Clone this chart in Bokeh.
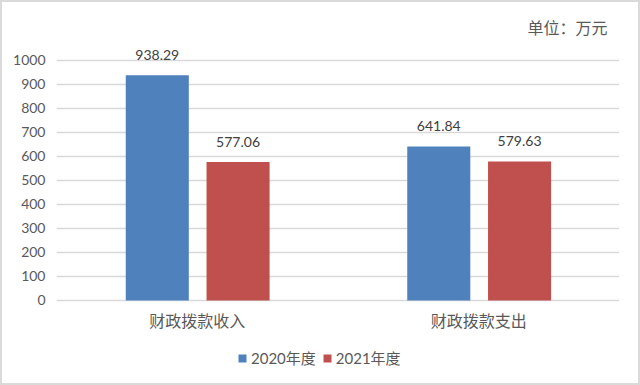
from bokeh.plotting import figure
from bokeh.models import ColumnDataSource, FactorRange, Range1d, LabelSet, Legend, LegendItem, Title, FixedTicker
from bokeh.transform import dodge
from bokeh.core.properties import value
from bokeh.embed import file_html
from bokeh.resources import INLINE

categories = ["财政拨款收入", "财政拨款支出"]
series_names = ["2020年度", "2021年度"]
values_2020 = [938.29, 641.84]
values_2021 = [577.06, 579.63]
y_ticks = [0, 100, 200, 300, 400, 500, 600, 700, 800, 900, 1000]
unit_text = "单位：万元"

FONT = "Lato, 'Noto Sans CJK SC'"
TXT = "#595959"

src = ColumnDataSource(dict(
    cat=categories,
    v20=values_2020,
    v21=values_2021,
    l20=["%.2f" % v for v in values_2020],
    l21=["%.2f" % v for v in values_2021],
))

p = figure(frame_width=563, frame_height=332, x_range=FactorRange(*categories),
           y_range=Range1d(-300, 1083.3), output_backend="svg", toolbar_location=None,
           min_border_left=56, min_border_right=21, min_border_top=40, min_border_bottom=13)
p.outline_line_color = None
p.background_fill_color = None
p.border_fill_color = None
p.styles = {"box-shadow": "inset 0 0 0 2px #DADADA", "background-color": "white"}

r20 = p.vbar(x=dodge("cat", -0.142, range=p.x_range), top="v20", width=0.224, source=src,
             fill_color="#4F81BD", line_color=None)
r21 = p.vbar(x=dodge("cat", 0.145, range=p.x_range), top="v21", width=0.224, source=src,
             fill_color="#C0504D", line_color=None)

for col, lab, off in [("v20", "l20", -0.142), ("v21", "l21", 0.145)]:
    ls = LabelSet(x=dodge("cat", off, range=p.x_range), y=col, text=lab, source=src,
                  y_offset=20, text_align="center", text_baseline="middle",
                  text_font=value(FONT), text_font_size="14px", text_color="#404040")
    p.add_layout(ls)

p.yaxis.ticker = FixedTicker(ticks=y_ticks)
p.ygrid.grid_line_color = "#D9D9D9"
p.ygrid.grid_line_width = 1.5
p.xgrid.grid_line_color = None
for ax in (p.xaxis, p.yaxis):
    ax.axis_line_color = None
    ax.major_tick_line_color = None
    ax.minor_tick_line_color = None
    ax.major_tick_out = 0
    ax.major_tick_in = 0
    ax.major_label_text_color = TXT
    ax.major_label_text_font = FONT
p.yaxis.major_label_text_font_size = "14px"
p.yaxis.major_label_standoff = 11
p.xaxis.major_label_text_font_size = "16px"
p.xaxis.major_label_standoff = -62

legend = Legend(items=[LegendItem(label=series_names[0], renderers=[r20]),
                       LegendItem(label=series_names[1], renderers=[r21])],
                orientation="horizontal", location=(181, 4),
                glyph_width=10, glyph_height=10, label_standoff=4, spacing=6,
                padding=0, margin=0, border_line_color=None, background_fill_alpha=0,
                label_text_font=FONT, label_text_font_size="15px", label_text_color=TXT)
p.add_layout(legend, "center")

t = Title(text=unit_text, align="right", text_font=FONT, text_font_size="16px",
          text_color=TXT, text_font_style="normal", offset=12, standoff=7)
p.add_layout(t, "above")

open("out.html", "w").write(file_html(p, INLINE))
